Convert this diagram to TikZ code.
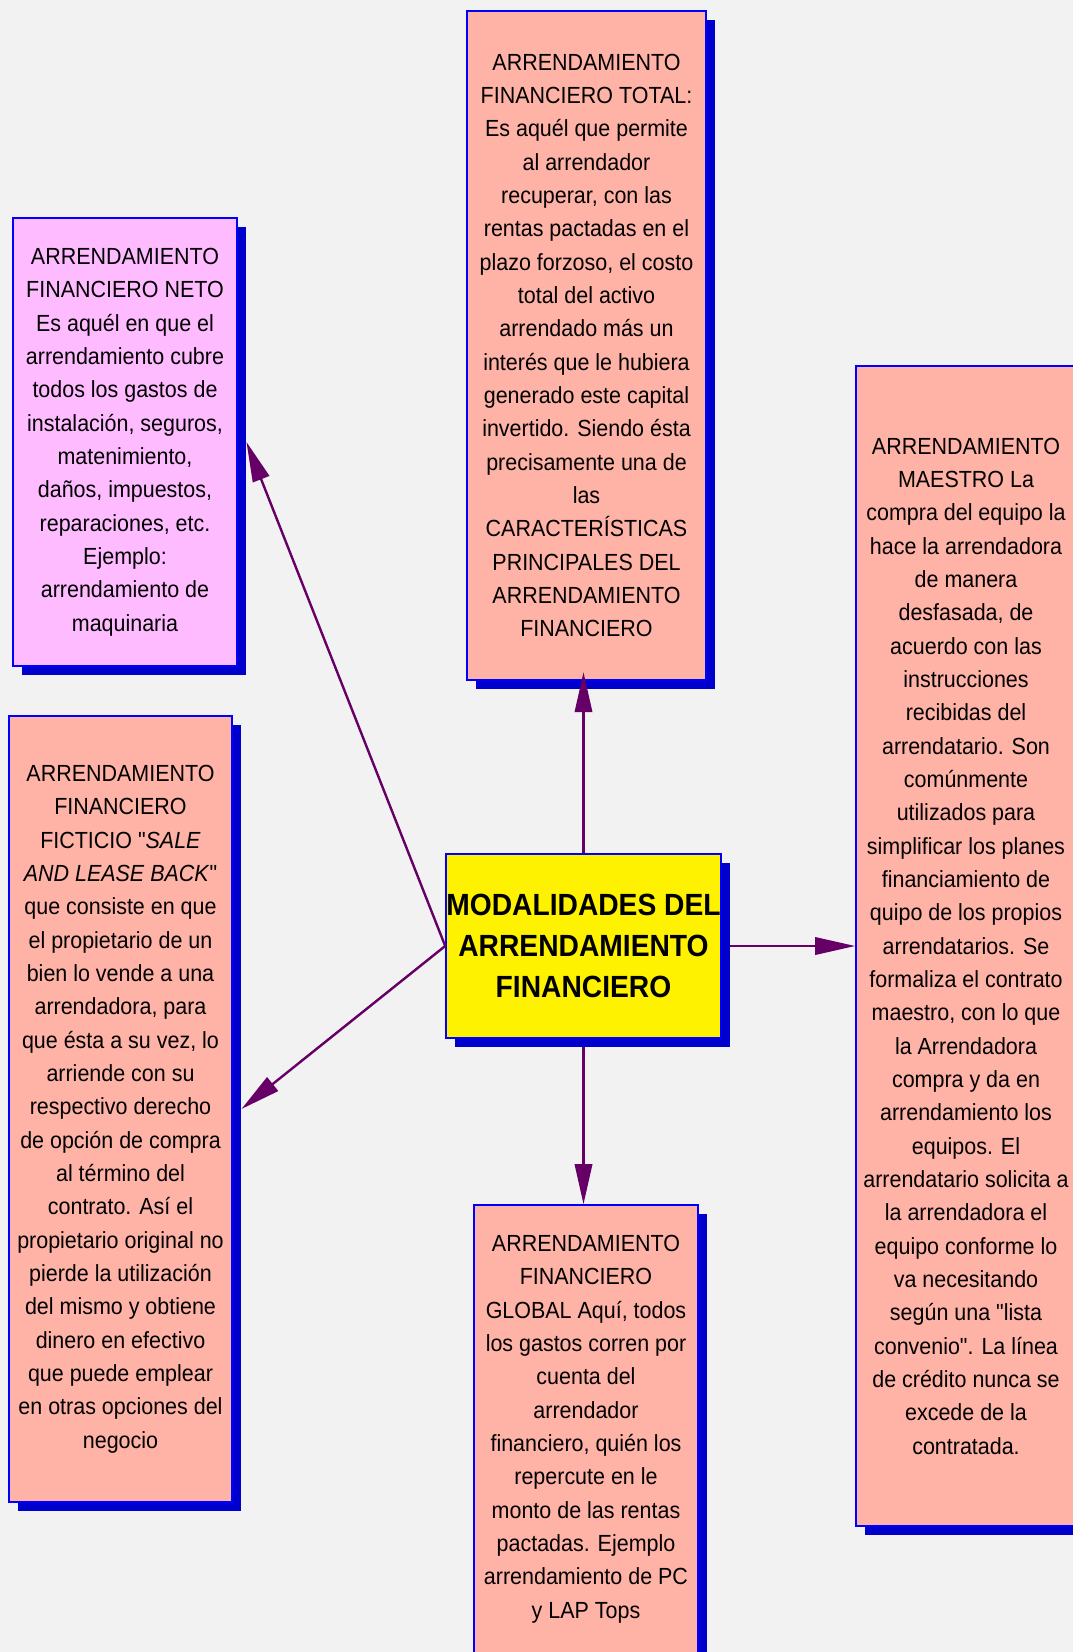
\documentclass[tikz,border=0pt]{standalone}
\usepackage{fontspec}
\newfontfamily\arial{Liberation Sans}[FakeStretch=0.92]
\usetikzlibrary{arrows.meta,shadows}
\definecolor{fondo}{RGB}{242,242,242}
\definecolor{salmon}{RGB}{255,178,166}
\definecolor{rosa}{RGB}{255,187,255}
\definecolor{borde}{RGB}{0,0,255}
\definecolor{sombra}{RGB}{0,0,204}
\definecolor{morado}{RGB}{102,0,102}

\begin{document}
\begin{tikzpicture}
			[x=0.75pt,y=-0.75pt,every node/.style={draw=borde,line width=1.2pt,fill=salmon,inner sep=0pt,align=center,font=\arial\fontsize{17.5}{25}\selectfont,drop shadow={shadow xshift=6.5pt,shadow yshift=-6.5pt,fill=sombra,opacity=1}},
			flecha/.style={-{Triangle[length=30pt,width=13pt]},draw=morado,line width=1.8pt}]
			\useasboundingbox (0,0) rectangle (1073,1652);
			\fill[fondo] (0,0) rectangle (1073,1652);
			
			\node[minimum width=179.25pt,minimum height=501.75pt] (total) at (586.5,345.5) {ARRENDAMIENTO\\FINANCIERO TOTAL:\\Es aquél que permite\\al arrendador\\recuperar, con las\\rentas pactadas en el\\plazo forzoso, el costo\\total del activo\\arrendado más un\\interés que le hubiera\\generado este capital\\invertido. Siendo ésta\\precisamente una de\\las\\CARACTERÍSTICAS\\PRINCIPALES DEL\\ARRENDAMIENTO\\FINANCIERO};
			\node[fill=rosa,minimum width=168pt,minimum height=336pt] (neto) at (125,442) {ARRENDAMIENTO\\FINANCIERO NETO\\Es aquél en que el\\arrendamiento cubre\\todos los gastos de\\instalación, seguros,\\matenimiento,\\daños, impuestos,\\reparaciones, etc.\\Ejemplo:\\arrendamiento de\\maquinaria};
			\node[minimum width=167.25pt,minimum height=589.5pt] (ficticio) at (120.5,1109) {ARRENDAMIENTO\\FINANCIERO\\FICTICIO "\textit{SALE}\\\textit{AND LEASE BACK}"\\que consiste en que\\el propietario de un\\bien lo vende a una\\arrendadora, para\\que ésta a su vez, lo\\arriende con su\\respectivo derecho\\de opción de compra\\al término del\\contrato. Así el\\propietario original no\\pierde la utilización\\del mismo y obtiene\\dinero en efectivo\\que puede emplear\\en otras opciones del\\negocio};
			\node[fill=yellow,minimum width=206.25pt,minimum height=138pt,font=\arial\bfseries\fontsize{23}{31}\selectfont] (centro) at (583.5,946) {MODALIDADES DEL\\ARRENDAMIENTO\\FINANCIERO};
			\node[minimum width=165pt,minimum height=870pt] (maestro) at (966,946) {ARRENDAMIENTO\\MAESTRO La\\compra del equipo la\\hace la arrendadora\\de manera\\desfasada, de\\acuerdo con las\\instrucciones\\recibidas del\\arrendatario. Son\\comúnmente\\utilizados para\\simplificar los planes\\financiamiento de\\quipo de los propios\\arrendatarios. Se\\formaliza el contrato\\maestro, con lo que\\la Arrendadora\\compra y da en\\arrendamiento los\\equipos. El\\arrendatario solicita a\\la arrendadora el\\equipo conforme lo\\va necesitando\\según una "lista\\convenio". La línea\\de crédito nunca se\\excede de la\\contratada.};
			\node[minimum width=168pt,minimum height=336pt] (global) at (586,1429) {ARRENDAMIENTO\\FINANCIERO\\GLOBAL Aquí, todos\\los gastos corren por\\cuenta del\\arrendador\\financiero, quién los\\repercute en le\\monto de las rentas\\pactadas. Ejemplo\\arrendamiento de PC\\y LAP Tops};
			
			\draw[flecha,shorten >=-6.5pt] (centro.north) to (centro.north |- total.south);
			\draw[flecha,shorten <=6.5pt] (centro.east) to (maestro.west);
			\draw[flecha,shorten <=6.5pt] (centro.south) to (centro.south |- global.north);
			\foreach \hacia in {neto,ficticio}
			\draw[flecha] (centro.west) to ([xshift=6.5pt]\hacia.east);
			\end{tikzpicture}
\end{document}
